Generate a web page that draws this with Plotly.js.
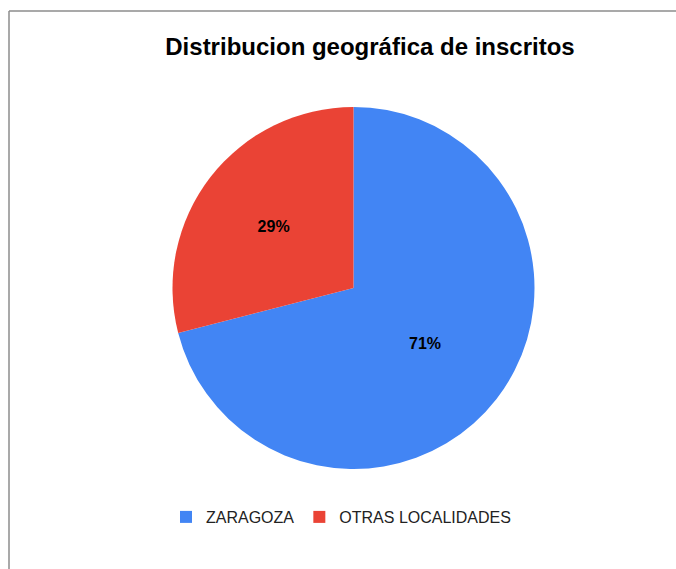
<!DOCTYPE html>
<html>
<head>
<meta charset="utf-8">
<script src="https://cdn.plot.ly/plotly-3.0.1.min.js"></script>
<style>html,body{margin:0;padding:0;background:#fff;}#chart{width:676px;height:569px;}</style>
</head>
<body>
<div id="chart"></div>
<script>
const categories = ["ZARAGOZA", "OTRAS LOCALIDADES"];
const values = [71, 29];
const colors = ["#4285F4", "#EA4335"];
const chartTitle = "Distribucion geográfica de inscritos";

const W = 676, H = 569;
const data = [{
  type: "pie",
  labels: categories,
  values: values,
  sort: false,
  direction: "clockwise",
  rotation: 0,
  marker: {colors: colors, line: {width: 0}},
  textinfo: "percent",
  textposition: "inside",
  insidetextorientation: "horizontal",
  textfont: {family: "Liberation Sans, Arial, sans-serif", size: 16, color: "#000", weight: "bold"},
  hoverinfo: "label+percent",
  domain: {x: [172/W, 535/W], y: [1 - 469/H, 1 - 107/H]}
}];
const layout = {
  width: W, height: H,
  margin: {l: 0, r: 0, t: 0, b: 0},
  paper_bgcolor: "#fff",
  title: {
    text: "<b>" + chartTitle + "</b>",
    font: {family: "Liberation Sans, Arial, sans-serif", size: 24, color: "#000"},
    x: 370/W, xanchor: "center", y: 1 - 47/H, yanchor: "middle"
  },
  showlegend: true,
  legend: {
    orientation: "h", x: 341/W, xanchor: "center", y: 1 - 517/H, yanchor: "middle",
    font: {family: "Liberation Sans, Arial, sans-serif", size: 16, color: "#222"},
    itemwidth: 30, traceorder: "normal"
  },
  shapes: [
    {type: "line", xref: "paper", yref: "paper", x0: 9/W, x1: 1, y0: 1 - 11/H, y1: 1 - 11/H, line: {color: "#8c8c8c", width: 1.5}},
    {type: "line", xref: "paper", yref: "paper", x0: 9/W, x1: 9/W, y0: 1 - 11/H, y1: 0, line: {color: "#8c8c8c", width: 1.5}}
  ]
};
Plotly.newPlot("chart", data, layout, {displayModeBar: false, staticPlot: true});
</script>
</body>
</html>
